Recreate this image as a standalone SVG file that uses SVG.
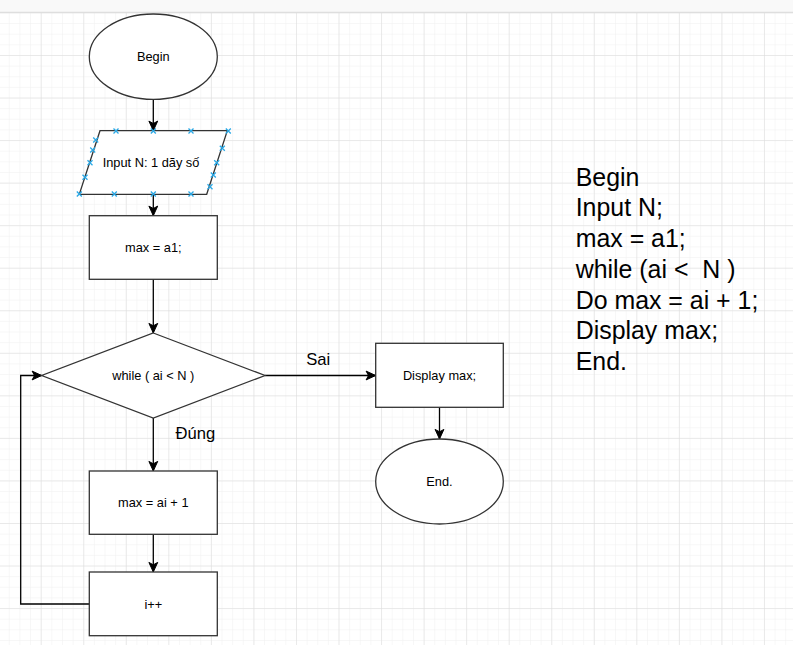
<svg xmlns="http://www.w3.org/2000/svg" width="793" height="645" viewBox="0 0 793 645">
<defs>
  <pattern id="minor" x="8.8" y="1.8" width="10.636" height="10.636" patternUnits="userSpaceOnUse">
    <path d="M0 0 V10.636 M0 0 H10.636" fill="none" stroke="#f0f0f0" stroke-width="1"/>
  </pattern>
  <pattern id="major" x="40.7" y="55" width="42.545" height="42.545" patternUnits="userSpaceOnUse">
    <path d="M0 0 V42.545 M0 0 H42.545" fill="none" stroke="#dcdcdc" stroke-width="1"/>
  </pattern>
  <marker id="arr" viewBox="-11 -6 12 12" refX="0" refY="0" markerWidth="12" markerHeight="12" markerUnits="userSpaceOnUse" orient="auto">
    <path d="M0 0 L-9.6 -4.4 L-7.2 0 L-9.6 4.4 Z" fill="#000" stroke="#000" stroke-width="1"/>
  </marker>
  <g id="xm">
    <path d="M-2.5 -2.5 L2.5 2.5 M-2.5 2.5 L2.5 -2.5" stroke="#29a8e6" stroke-width="1.3"/>
  </g>
</defs>
<style>
  .shape { fill: #fff; stroke: #333; stroke-width: 1.3; }
  .edge { fill: none; stroke: #000; stroke-width: 1.3; }
  .lbl { font-family: "Liberation Sans", Arial, sans-serif; font-size: 12.8px; fill: #000; text-anchor: middle; dominant-baseline: central; }
  .elbl { font-family: "Liberation Sans", Arial, sans-serif; font-size: 16.6px; fill: #000; text-anchor: middle; }
  .side { font-family: "Liberation Sans", Arial, sans-serif; font-size: 24.9px; fill: #000; white-space: pre; }
</style>
<rect x="0" y="0" width="793" height="645" fill="#fff"/>
<rect x="0" y="12" width="793" height="633" fill="url(#minor)"/>
<rect x="0" y="12" width="793" height="633" fill="url(#major)"/>
<rect x="0" y="0" width="793" height="12" fill="#f9f9f9"/>
<line x1="0" y1="12.3" x2="793" y2="12.3" stroke="#dedede" stroke-width="1.2"/>

<g id="connectors">
  <path class="edge" d="M153.3 99.3 V130.7" marker-end="url(#arr)"/>
  <path class="edge" d="M153.3 194.3 V215.7" marker-end="url(#arr)"/>
  <path class="edge" d="M153.3 279.3 V333" marker-end="url(#arr)"/>
  <path class="edge" d="M153.3 418 V471" marker-end="url(#arr)"/>
  <path class="edge" d="M153.3 534.3 V572" marker-end="url(#arr)"/>
  <path class="edge" d="M265 375.5 H375.7" marker-end="url(#arr)"/>
  <path class="edge" d="M439.5 407.3 V439" marker-end="url(#arr)"/>
  <path class="edge" d="M89.3 604 H20.7 V375.5 H41.7" marker-end="url(#arr)"/>
  <text class="elbl" x="318.3" y="365">Sai</text>
  <text class="elbl" x="195.3" y="438.8">Đúng</text>
</g>

<g id="begin">
  <ellipse class="shape" cx="153.3" cy="56.7" rx="64" ry="42.7"/>
  <text class="lbl" x="153.3" y="56.7">Begin</text>
</g>

<g id="input">
  <polygon class="shape" points="100,130.7 227.3,130.7 206.7,194.3 79.3,194.3"/>
  <text class="lbl" x="151" y="162.7">Input N: 1 dãy số</text>
  <use href="#xm" x="116" y="131"/>
  <use href="#xm" x="153.3" y="131"/>
  <use href="#xm" x="191" y="131"/>
  <use href="#xm" x="228.3" y="131"/>
  <use href="#xm" x="79.3" y="194"/>
  <use href="#xm" x="114.3" y="194"/>
  <use href="#xm" x="153.3" y="194"/>
  <use href="#xm" x="191" y="194"/>
  <use href="#xm" x="95.7" y="140"/>
  <use href="#xm" x="92.7" y="150"/>
  <use href="#xm" x="90" y="162.7"/>
  <use href="#xm" x="85" y="177.3"/>
  <use href="#xm" x="222.3" y="148.3"/>
  <use href="#xm" x="216.7" y="162.7"/>
  <use href="#xm" x="213.3" y="175"/>
  <use href="#xm" x="210" y="186.7"/>
</g>

<g id="init">
  <rect class="shape" x="89.3" y="215.7" width="128" height="63.6"/>
  <text class="lbl" x="153.3" y="247.5">max = a1;</text>
</g>

<g id="cond">
  <polygon class="shape" points="153.3,333 265,375.5 153.3,418 41.7,375.5"/>
  <text class="lbl" x="153.3" y="375.5">while ( ai &lt; N )</text>
</g>

<g id="display">
  <rect class="shape" x="375.7" y="343.3" width="127.6" height="64"/>
  <text class="lbl" x="439.5" y="375.3">Display max;</text>
</g>

<g id="end">
  <ellipse class="shape" cx="439.5" cy="481.5" rx="63.8" ry="42.5"/>
  <text class="lbl" x="439.5" y="481.5">End.</text>
</g>

<g id="update">
  <rect class="shape" x="89.3" y="471" width="128" height="63.3"/>
  <text class="lbl" x="153.3" y="502.7">max = ai + 1</text>
</g>

<g id="incr">
  <rect class="shape" x="89.3" y="572" width="128" height="63.7"/>
  <text class="lbl" x="153.3" y="604">i++</text>
</g>

<g id="pseudocode">
  <text class="side" x="575.7" y="185.7">Begin</text>
  <text class="side" x="575.7" y="216.4">Input N;</text>
  <text class="side" x="575.7" y="247.1">max = a1;</text>
  <text class="side" x="575.7" y="277.8" xml:space="preserve">while (ai &lt;  N )</text>
  <text class="side" x="575.7" y="308.5">Do max = ai + 1;</text>
  <text class="side" x="575.7" y="339.2">Display max;</text>
  <text class="side" x="575.7" y="369.9">End.</text>
</g>
</svg>
